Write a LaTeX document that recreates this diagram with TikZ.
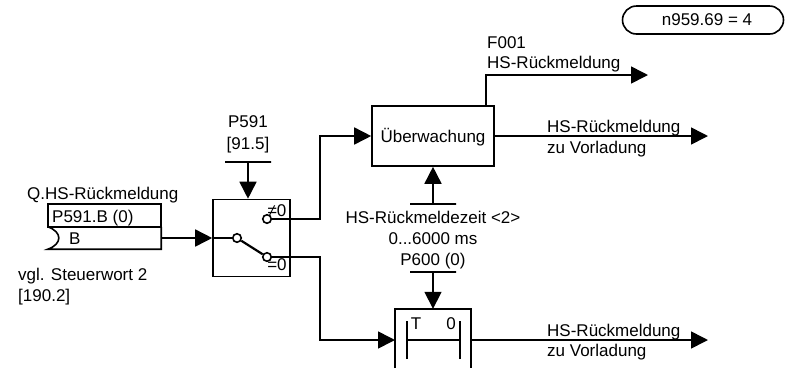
\documentclass[tikz,border=0pt]{standalone}
\usepackage{fontspec}
\setmainfont{Liberation Sans}
\usepackage{tikz}
\usetikzlibrary{arrows.meta}
\tikzset{
  sig/.style={line width=1.6pt,-{Triangle[length=17pt,width=17pt]}},
  lin/.style={line width=1.6pt},
  block/.style={draw,line width=1.6pt,inner sep=0pt},
  leer/.style={inner sep=0pt},
  steller/.style={draw,line width=1.6pt,inner sep=0pt,minimum width=46pt,minimum height=0pt},
  kontakt/.style={circle,draw,fill=white,line width=1.6pt,inner sep=0pt,minimum size=8.5pt},
  txt/.style={anchor=base west,inner sep=0pt,font=\fontsize{17}{20}\selectfont},
  txtm/.style={anchor=base,inner sep=0pt,font=\fontsize{17}{20}\selectfont}
}
\begin{document}
\begin{tikzpicture}[x=1pt,y=-1pt]
\useasboundingbox (0,0) rectangle (785,368);
\node[block,rounded corners=14pt,minimum width=161pt,minimum height=28pt] (status) at (703,20) {};
\node[txtm] (statusText) at (707,25) {n959.69 = 4};
\node[block,minimum width=122pt,minimum height=60pt] (ueberw) at (433,136) {};
\node[txtm] (ueberwText) at (433,142) {Überwachung};
\node[block,minimum width=77pt,minimum height=77pt] (schalter) at (251.5,238) {};
\node[block,minimum width=113pt,minimum height=23pt] (qOben) at (104.5,215.5) {};
\node[leer,minimum width=113pt,minimum height=22pt] (qUnten) at (104.5,238) {};
\node[leer,minimum width=76pt,minimum height=59pt] (timer) at (433,338.5) {};
\node[leer,minimum width=53pt,minimum height=38pt] (timerInnen) at (433.5,340) {};
\coordinate (timerEin) at (395,340);
\coordinate (timerAus) at (471,340);
\coordinate (fAb) at (486,106);
\coordinate (fEnde) at (648,75);
\coordinate (vorEnde) at (708,136);
\coordinate (vorEnde2) at (708,340);
\coordinate (knickA) at (320,180);
\coordinate (knickB) at (320,300);
\node[steller] (stellerP) at (248,162) {};
\node[steller] (stellerZeit) at (433,204) {};
\node[steller] (stellerT) at (433,272) {};
\draw[lin] (qUnten.north west) .. controls (62.5,232) and (62.5,244) .. (qUnten.south west) -- (qUnten.south east) -- (qUnten.north east);
\draw[lin] (timer.south west) -- (timer.north west) -- (timer.north east) -- (timer.south east);
\draw[lin] (timerInnen.south west) -- (timerInnen.north west);
\draw[lin] (timerInnen.south east) -- (timerInnen.north east);
\draw[lin] (timerInnen.west) -- (timerInnen.east);
\draw[sig] (qUnten.east) -- (schalter.west);
\node[kontakt] (kEin) at (237,238) {};
\node[kontakt] (kUngl) at (267,219) {};
\node[kontakt] (kNull) at (267,257) {};
\draw[lin] (schalter.west) -- (kEin);
\draw[line width=2.2pt] (kEin) -- (kNull);
\draw[sig] (stellerP) -- (schalter.north -| stellerP);
\draw[sig] (kUngl.east) -| (knickA) |- (ueberw.west);
\draw[sig] (kNull.east) -| (knickB) |- (timerEin);
\draw[sig] (fAb) |- (fEnde);
\draw[sig] (ueberw.east) -- (vorEnde);
\draw[sig] (stellerZeit) -- (ueberw.south);
\draw[sig] (stellerT) -- (timer.north);
\draw[sig] (timerAus) -- (vorEnde2);
\node[txt] (tF) at (487,48) {F001};
\node[txt] (tFb) at (487,68) {HS-Rückmeldung};
\node[txt] (tV) at (547,132) {HS-Rückmeldung};
\node[txt] (tVb) at (547,153) {zu Vorladung};
\node[txt] (tT) at (547,336) {HS-Rückmeldung};
\node[txt] (tTb) at (547,356) {zu Vorladung};
\node[txtm] (tP) at (248,127) {P591};
\node[txtm] (tPb) at (248,149) {[91.5]};
\node[txt] (tQ) at (27,199) {Q.HS-Rückmeldung};
\node[txt] (tQo) at (52,222) {P591.B (0)};
\node[txt] (tQu) at (69,244) {B};
\node[txt] (tS) at (18,280) {vgl. Steuerwort 2};
\node[txt] (tSb) at (18,301) {[190.2]};
\node[txtm] (tUngl) at (277,216) {≠0};
\node[txtm] (tNull) at (277,270) {=0};
\node[txtm] (tZ) at (433,223) {HS-Rückmeldezeit <2>};
\node[txtm] (tZb) at (433,244) {0...6000 ms};
\node[txtm] (tZc) at (433,265) {P600 (0)};
\node[txtm] (tTt) at (416,329) {T};
\node[txtm] (tTn) at (451,329) {0};
\end{tikzpicture}
\end{document}
